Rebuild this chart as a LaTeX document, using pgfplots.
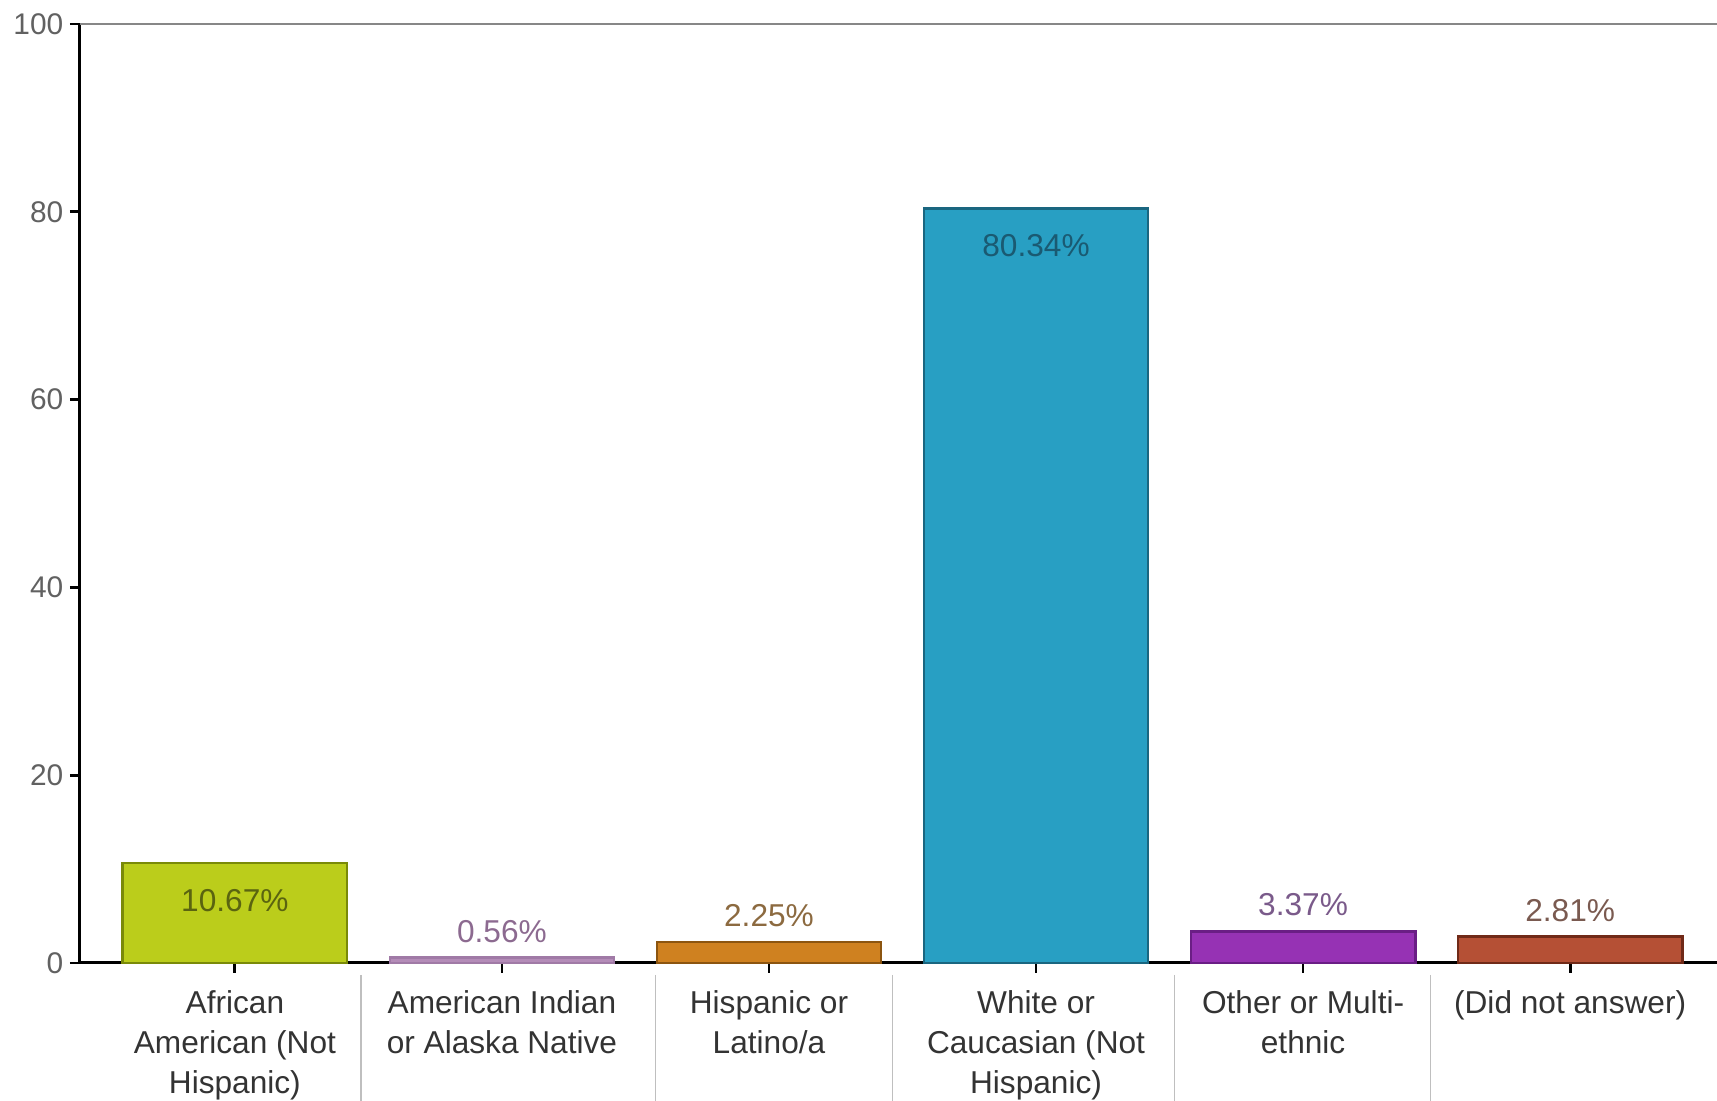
\documentclass[border=0pt]{standalone}
\usepackage{pgfplots}
\pgfplotsset{compat=1.18}
\usepackage{fontspec}
\setmainfont{Liberation Sans}
\definecolor{gF}{HTML}{BBCD1B}\definecolor{gD}{HTML}{7A8A08}\definecolor{gT}{HTML}{5A6410}
\definecolor{mF}{HTML}{B48CB8}\definecolor{mD}{HTML}{A07AA6}\definecolor{mT}{HTML}{8C6A90}
\definecolor{oF}{HTML}{CF8120}\definecolor{oD}{HTML}{8C5510}\definecolor{oT}{HTML}{8C6A40}
\definecolor{bF}{HTML}{289FC3}\definecolor{bD}{HTML}{1A6680}\definecolor{bT}{HTML}{1A5A72}
\definecolor{pF}{HTML}{9632B4}\definecolor{pD}{HTML}{6A1E85}\definecolor{pT}{HTML}{7A5A8A}
\definecolor{rF}{HTML}{B55035}\definecolor{rD}{HTML}{702A18}\definecolor{rT}{HTML}{7A5A50}
\pgfplotsset{
  above/.style={nodes near coords style={anchor=south, inner sep=0pt, yshift=0.14cm, font=\fontsize{9}{11}\selectfont, text=#1}},
  inside/.style={nodes near coords style={anchor=north, inner sep=0pt, yshift=-0.25cm, font=\fontsize{9}{11}\selectfont, text=#1}},
  mybar/.style 2 args={ybar, bar width=0.84, bar shift=0pt, fill=#1, draw=#2, line width=0.025cm},
}
\begin{document}
\begin{tikzpicture}
\begin{axis}[
  at={(0,0)}, anchor=south west,
  scale only axis, width=16.37cm, height=9.39cm,
  xmin=-0.58, xmax=5.55, ymin=0, ymax=100,
  axis x line*=bottom, axis y line*=left,
  axis line style={black, line width=0.03cm},
  tick align=outside, major tick length=0.1cm,
  tick style={black, line width=0.028cm},
  xtick={0,1,2,3,4,5},
  xticklabels={{African\\American (Not\\Hispanic)},{American Indian\\or Alaska Native},{Hispanic or\\Latino/a},{White or\\Caucasian (Not\\Hispanic)},{Other or Multi-\\ethnic},{(Did not answer)}},
  xticklabel style={align=center, inner sep=0pt, anchor=north, yshift=-0.17cm, font=\fontsize{9}{11.3}\selectfont, text=black!80},
  ytick={0,20,40,60,80,100},
  yticklabel style={inner sep=0pt, anchor=east, xshift=-0.06cm, font=\fontsize{8.5}{10}\selectfont, text=black!62, /pgf/number format/assume math mode=true},
  clip=false,
]
\addplot[mybar={gF}{gD}, nodes near coords={10.67\%}, inside=gT] coordinates {(0,10.67)};
\addplot[mybar={mF}{mD}, nodes near coords={0.56\%}, above=mT] coordinates {(1,0.56)};
\addplot[mybar={oF}{oD}, nodes near coords={2.25\%}, above=oT] coordinates {(2,2.25)};
\addplot[mybar={bF}{bD}, nodes near coords={80.34\%}, inside=bT] coordinates {(3,80.34)};
\addplot[mybar={pF}{pD}, nodes near coords={3.37\%}, above=pT] coordinates {(4,3.37)};
\addplot[mybar={rF}{rD}, nodes near coords={2.81\%}, above=rT] coordinates {(5,2.81)};
\draw[black!47, line width=0.025cm] (rel axis cs:0,1) -- (rel axis cs:1,1);
\draw[black!25, line width=0.012cm] ([yshift=-0.12cm]axis cs:0.472,0) -- ([yshift=-1.38cm]axis cs:0.472,0);
\draw[black!25, line width=0.012cm] ([yshift=-0.12cm]axis cs:1.574,0) -- ([yshift=-1.38cm]axis cs:1.574,0);
\draw[black!25, line width=0.012cm] ([yshift=-0.12cm]axis cs:2.461,0) -- ([yshift=-1.38cm]axis cs:2.461,0);
\draw[black!25, line width=0.012cm] ([yshift=-0.12cm]axis cs:3.517,0) -- ([yshift=-1.38cm]axis cs:3.517,0);
\draw[black!25, line width=0.012cm] ([yshift=-0.12cm]axis cs:4.476,0) -- ([yshift=-1.38cm]axis cs:4.476,0);
\end{axis}
\pgfresetboundingbox
\useasboundingbox (-0.80,-1.38) rectangle (16.37,9.63);
\end{tikzpicture}
\end{document}
